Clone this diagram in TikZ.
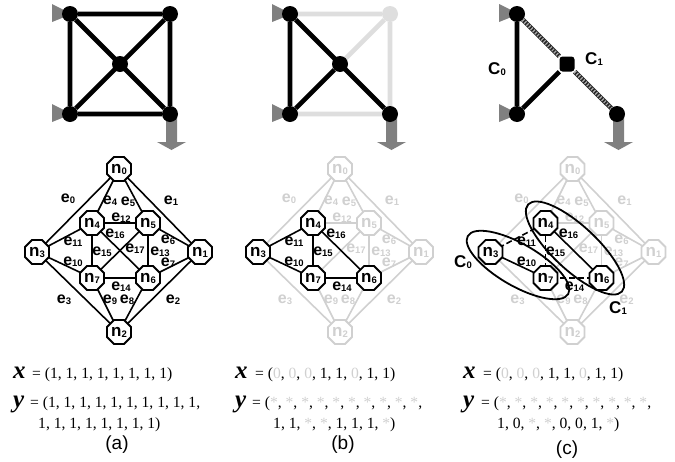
\documentclass[tikz,border=0pt]{standalone}
\usepackage{fontspec}
\setmainfont{Liberation Sans}
\newfontfamily\timesf{Liberation Serif}
\usetikzlibrary{shapes.geometric}
\definecolor{lite}{HTML}{D0D0D0}
\definecolor{litetop}{HTML}{DEDEDE}
\definecolor{arrowgray}{HTML}{808080}
\newcommand\lab[2]{#1{\fontsize{9.5}{9.5}\selectfont\raisebox{-1pt}{#2}}}
\newcommand\gz{\textcolor{lite}{0}}
\newcommand\gs{\textcolor{lite}{*}}
\tikzset{
  x=1pt,y=-1pt,
  vtx/.style={circle,fill=black,minimum size=16,inner sep=0},
  vtxlite/.style={circle,fill=litetop,minimum size=16,inner sep=0},
  vtxsq/.style={rectangle,rounded corners=3,fill=black,minimum size=15,inner sep=0},
  link/.style={line width=4.6,black},
  linklite/.style={line width=4.6,litetop},
  gnode/.style={regular polygon,regular polygon sides=8,draw=#1,text=#1,fill=white,line width=1.8,minimum size=26,inner sep=0,font=\fontsize{17}{17}\selectfont\bfseries},
  gedge/.style={line width=1.6,draw=#1},
  elab/.style={text=#1,inner sep=0,font=\fontsize{16}{16}\selectfont\bfseries},
  srcmark/.style={fill=arrowgray,draw=none},
  eqline/.style={anchor=base west,inner sep=0,font=\timesf\fontsize{15.6}{15.6}\selectfont},
  vecname/.style={anchor=base west,inner sep=0,font=\timesf\fontsize{25}{25}\selectfont\bfseries\itshape},
  caption/.style={inner sep=0,font=\fontsize{19}{19}\selectfont},
  clab/.style={inner sep=0,font=\fontsize{17}{17}\selectfont\bfseries},
  group/.style={ellipse,draw=black,line width=1.8,inner sep=0},
}
\newcommand\places[2]{
  \coordinate (#1p0) at (#2+119,169);
  \coordinate (#1p1) at (#2+200,252);
  \coordinate (#1p2) at (#2+119,332);
  \coordinate (#1p3) at (#2+37,252);
  \coordinate (#1p4) at (#2+92,223);
  \coordinate (#1p5) at (#2+148,223);
  \coordinate (#1p6) at (#2+148,278);
  \coordinate (#1p7) at (#2+92,278);
}
\newcommand\gnodes[3]{%
  \foreach \i in {#3} {\node[gnode=#2] (#1n\i) at (#1p\i) {\lab{n}{\i}};}
}
\newcommand\gedges[3]{%
  \foreach \a/\b in {#3} {\draw[#2] (#1p\a) -- (#1p\b);}
}
\newcommand\elabels[3]{%
  \foreach \i/\x/\y in {#3} {\node[elab=#2] (#2lab\i x#1) at (#1+\x,\y) {\lab{e}{\i}};}
}
\newcommand\sources[1]{
  \fill[srcmark] (#1+52,4) -- (#1+72,14) -- (#1+52,22) -- cycle;
  \fill[srcmark] (#1+52,104) -- (#1+72,114) -- (#1+52,122) -- cycle;
  \fill[srcmark] (#1+166,118) -- (#1+177,118) -- (#1+177,142) -- (#1+186,142) -- (#1+171.5,150) -- (#1+157,142) -- (#1+166,142) -- cycle;
}
\begin{document}
\begin{tikzpicture}
\useasboundingbox (0,0) rectangle (675,461);
% ---- top (a)
\sources{0}
\node[vtx] (ta) at (70,14) {};
\node[vtx] (tb) at (170,14) {};
\node[vtx] (tc) at (70,114) {};
\node[vtx] (td) at (170,114) {};
\node[vtx] (te) at (120,64) {};
\draw[link] (ta)--(tb) (tb)--(td) (td)--(tc) (tc)--(ta) (ta)--(td) (tb)--(tc);
% ---- top (b)
\sources{220}
\node[vtxlite] (ub) at (390,14) {};
\coordinate (uaa) at (290,14);
\coordinate (ucc) at (290,114);
\coordinate (udd) at (390,114);
\coordinate (uee) at (340,64);
\draw[linklite] (uaa)--(ub) (ub)--(udd) (udd)--(ucc) (ub)--(uee);
\node[vtx] (ua) at (uaa) {};
\node[vtx] (uc) at (ucc) {};
\node[vtx] (ud) at (udd) {};
\node[vtx] (ue) at (uee) {};
\draw[link] (ua)--(uc) (ua)--(ud) (uc)--(ue);
% ---- top (c)
\sources{447}
\node[vtx] (va) at (517,14) {};
\node[vtx] (vc) at (517,114) {};
\node[vtx] (vd) at (617,114) {};
\node[vtxsq] (ve) at (567,64) {};
\draw[link] (va)--(vc) (vc)--(ve);
\draw[link,black!85] (va)--(ve) (ve)--(vd);
\draw[line width=3.4,gray!65,dash pattern=on 1.2 off 1.8] (va)--(ve) (ve)--(vd);
\node[clab] (vl0) at (497,69) {\lab{C}{0}};
\node[clab] (vl1) at (594,59) {\lab{C}{1}};
% ---- graph (a)
\places{a}{0}
\gedges{a}{gedge=black}{0/3,0/1,1/2,2/3,0/4,0/5,1/5,1/6,2/6,2/7,3/7,3/4,4/5,5/6,6/7,7/4,4/6,5/7}
\gnodes{a}{black}{0,1,2,3,4,5,6,7}
\elabels{0}{black}{0/68/199,1/171/201,2/173/300,3/64/300,4/110/201,5/128/202,6/168/240,7/168/263,8/127/300,9/110/300,10/73/262,11/73/242,12/121/218,13/160/252,14/121/287,15/102/252,16/115/234,17/135/249}
% ---- graph (b)
\places{b}{221}
\gedges{b}{gedge=lite}{0/3,0/1,1/2,2/3,0/4,0/5,1/5,1/6,2/6,2/7,4/5,5/6,5/7}
\gedges{b}{gedge=black}{3/7,3/4,6/7,7/4,4/6}
\gnodes{b}{lite}{0,1,2,5}
\gnodes{b}{black}{3,4,6,7}
\elabels{221}{lite}{0/68/199,1/171/201,2/173/300,3/64/300,4/110/201,5/128/202,6/168/240,7/168/263,8/127/300,9/110/300,12/121/218,13/160/252,17/135/249}
\elabels{221}{black}{10/73/262,11/73/242,14/121/287,15/102/252,16/115/234}
% ---- graph (c)
\places{c}{453.5}
\gedges{c}{gedge=lite}{0/3,0/1,1/2,2/3,0/4,0/5,1/5,1/6,2/6,2/7,4/5,5/6,5/7}
\gedges{c}{gedge=black}{3/7,4/6}
\gedges{c}{gedge=black,dash pattern=on 6 off 3}{3/4,6/7,7/4}
\gnodes{c}{lite}{0,1,2,5}
\gnodes{c}{black}{3,4,6,7}
\elabels{453.5}{lite}{0/68/199,1/171/201,2/173/300,3/64/300,4/110/201,5/128/202,6/168/240,7/168/263,8/127/300,9/110/300,12/121/218,13/160/252,17/135/249}
\elabels{453.5}{black}{10/73/262,11/73/242,14/121/287,15/102/252,16/115/234}
\node[group,minimum width=116,minimum height=42,rotate=-30] (g0) at (518,265) {};
\node[group,minimum width=128,minimum height=44,rotate=-43] (g1) at (575,248) {};
\node[clab] (gl0) at (463,262) {\lab{C}{0}};
\node[clab] (gl1) at (618,308) {\lab{C}{1}};
% ---- vectors
\node[vecname] (ax) at (13,378) {x};
\node[eqline] (axv) at (32,378) {= (1, 1, 1, 1, 1, 1, 1, 1)};
\node[vecname] (ay) at (13,407) {y};
\node[eqline] (ayv) at (30,407) {= (1, 1, 1, 1, 1, 1, 1, 1, 1, 1,};
\node[eqline] (ayw) at (38,428) {1, 1, 1, 1, 1, 1, 1, 1)};
\node[caption] (ca) at (117,445) {(a)};
\node[vecname] (bx) at (235,378) {x};
\node[eqline] (bxv) at (255,378) {= (\gz, \gz, \gz, 1, 1, \gz, 1, 1)};
\node[vecname] (by) at (235,407) {y};
\node[eqline] (byv) at (252,407) {= (\gs, \gs, \gs, \gs, \gs, \gs, \gs, \gs, \gs, \gs,};
\node[eqline] (byw) at (273,428) {1, 1, \gs, \gs, 1, 1, 1, \gs)};
\node[caption] (cb) at (343,445) {(b)};
\node[vecname] (cx) at (463,378) {x};
\node[eqline] (cxv) at (483,378) {= (\gz, \gz, \gz, 1, 1, \gz, 1, 1)};
\node[vecname] (cy) at (463,407) {y};
\node[eqline] (cyv) at (481,407) {= (\gs, \gs, \gs, \gs, \gs, \gs, \gs, \gs, \gs, \gs,};
\node[eqline] (cyw) at (497,428) {1, 0, \gs, \gs, 0, 0, 1, \gs)};
\node[caption] (cc) at (567,450) {(c)};
\end{tikzpicture}
\end{document}
